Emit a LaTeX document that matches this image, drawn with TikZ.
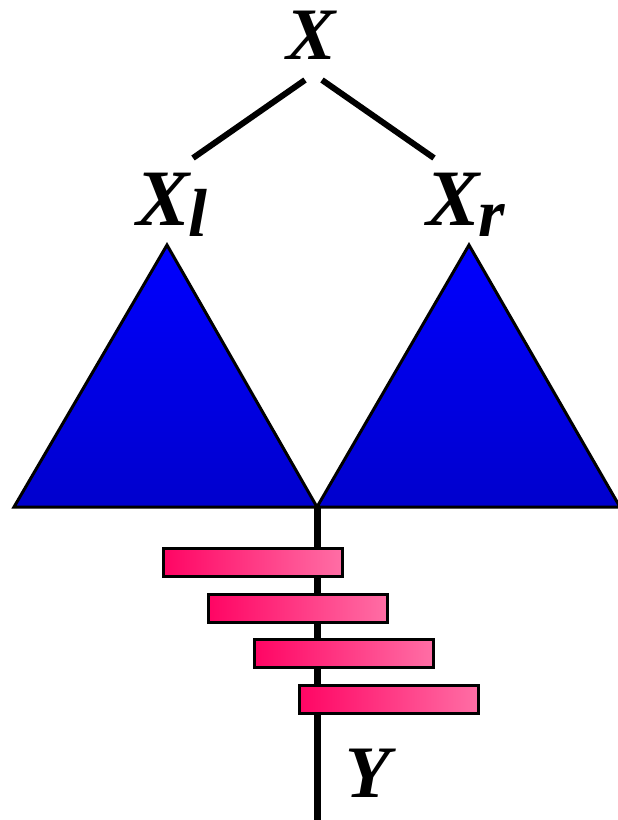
\documentclass[tikz,border=0pt]{standalone}
\usepackage{fontspec}
\setmainfont{Liberation Serif}
\definecolor{treetop}{RGB}{0,0,255}
\definecolor{treebot}{RGB}{0,0,205}
\definecolor{barleft}{RGB}{255,5,100}
\definecolor{barright}{RGB}{255,110,165}
\newcommand{\subtxt}[1]{\raisebox{-11pt}{\fontsize{68}{68}\selectfont #1}}
\begin{document}
\begin{tikzpicture}[x=1pt,y=-1pt,
  lbl/.style={inner sep=0pt,anchor=base,font=\fontsize{74}{80}\selectfont\bfseries\itshape},
  sublbl/.style={lbl,anchor=base west,font=\fontsize{80}{86}\selectfont\bfseries\itshape},
  tree/.style={draw=black,line width=3pt,top color=treetop,bottom color=treebot},
  bar/.style={draw=black,line width=3pt,inner sep=0pt,minimum width=179pt,minimum height=28pt,left color=barleft,right color=barright}]
  \useasboundingbox (0,0) rectangle (618,820);
  \node[lbl] (X) at (311,59) {X};
  \node[sublbl] (Xl) at (136,225) {X\kern-1pt\subtxt{l}};
  \node[sublbl] (Xr) at (426,225) {X\kern-1pt\subtxt{r}};
  \node[lbl] (Y) at (368,797) {Y};
  \coordinate (xa) at (305,80);
  \coordinate (xb) at (322,80);
  \coordinate (xla) at (193,158);
  \coordinate (xra) at (434,158);
  \draw[line width=6pt] (xa) -- (xla);
  \draw[line width=6pt] (xb) -- (xra);
  % subtrees
  \shade[tree] (167,245) -- (317,507) -- (14,507) -- cycle;
  \shade[tree] (469,245) -- (620,507) -- (317,507) -- cycle;
  \coordinate (join) at (317,507);
  \coordinate (yend) at (317,822);
  \draw[line width=7pt] (join) -- (yend);
  \foreach \i in {0,...,3}
    \node[bar] (bar\i) at ({253+45.4*\i},{562.5+45.5*\i}) {};
\end{tikzpicture}
\end{document}
